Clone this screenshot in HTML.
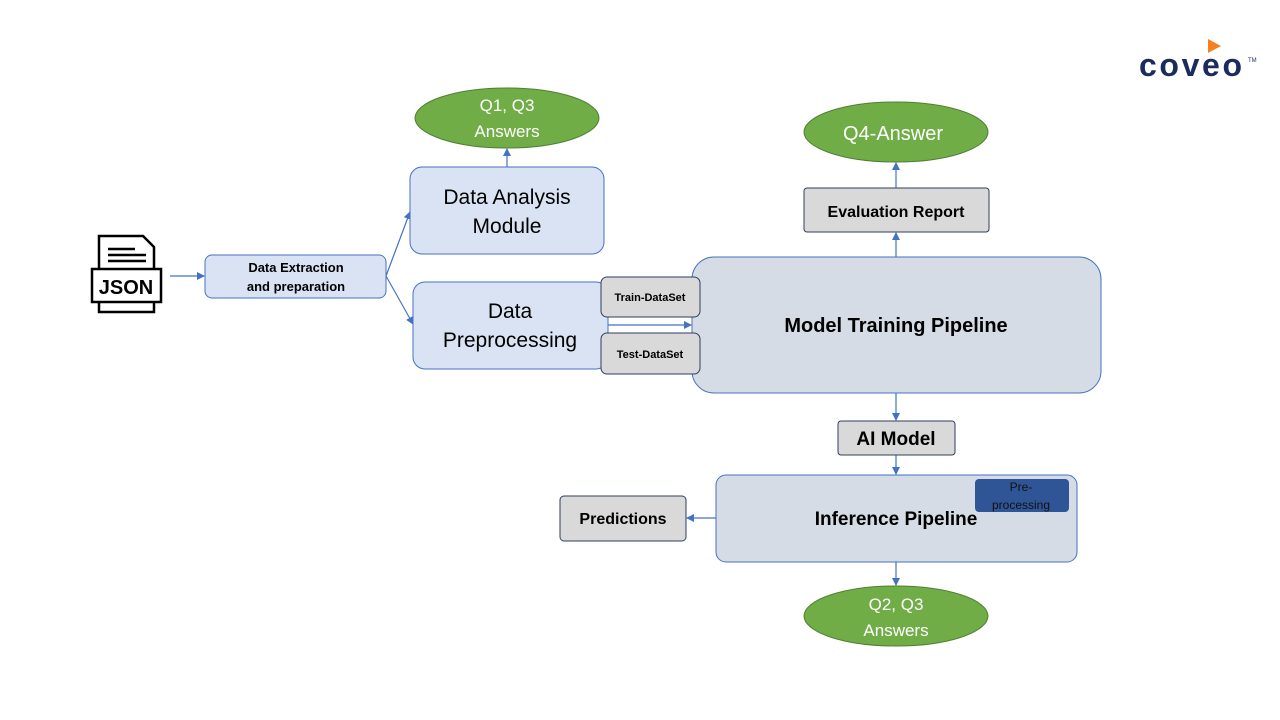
<!DOCTYPE html>
<html><head><meta charset="utf-8"><style>body{margin:0;background:#fff}svg{display:block;font-family:"Liberation Sans",Calibri,sans-serif}</style></head><body>
<svg width="1280" height="720" viewBox="0 0 1280 720">
<defs><marker id="a" markerWidth="8" markerHeight="8" refX="7" refY="4" orient="auto" markerUnits="userSpaceOnUse"><path d="M0,0 L8,4 L0,8z" fill="#4472c4"/></marker></defs>
<g stroke="#4472c4" stroke-width="1.2" fill="none" marker-end="url(#a)">
<line x1="170" y1="276" x2="204" y2="276"/>
<line x1="386" y1="276" x2="410" y2="212"/>
<line x1="386" y1="276" x2="413" y2="324"/>
<line x1="507" y1="167" x2="507" y2="149"/>
<line x1="607" y1="325" x2="691" y2="325"/>
<line x1="896" y1="257" x2="896" y2="233"/>
<line x1="896" y1="188" x2="896" y2="163"/>
<line x1="896" y1="393" x2="896" y2="420"/>
<line x1="896" y1="455" x2="896" y2="474"/>
<line x1="716" y1="518" x2="687" y2="518"/>
<line x1="896" y1="562" x2="896" y2="585"/>
</g>
<line x1="607" y1="317" x2="692" y2="317" stroke="#2f3e5f" stroke-width="1"/>
<line x1="607" y1="333" x2="692" y2="333" stroke="#2f3e5f" stroke-width="1"/>
<g stroke="#000" stroke-width="2.5" fill="#fff">
<path d="M99,236 L143,236 L154,247 L154,312 L99,312 Z"/>
<rect x="92" y="269" width="69" height="33"/>
</g>
<g stroke="#000" stroke-width="2.5"><line x1="108" y1="249" x2="135" y2="249"/><line x1="108" y1="255" x2="146" y2="255"/><line x1="108" y1="261" x2="146" y2="261"/></g>
<text x="126" y="294" font-size="20" font-weight="bold" text-anchor="middle">JSON</text>
<g stroke="#4472c4" stroke-width="1" fill="#dae3f3">
<rect x="205" y="255" width="181" height="43" rx="7"/>
<rect x="410" y="167" width="194" height="87" rx="12"/>
<rect x="413" y="282" width="195" height="87" rx="12"/>
<rect x="692" y="257" width="409" height="136" rx="22" fill="#d6dce5"/>
<rect x="716" y="475" width="361" height="87" rx="10" fill="#d6dce5"/>
</g>
<g stroke="#2f3e5f" stroke-width="1" fill="#d9d9d9">
<rect x="601" y="277" width="99" height="40" rx="6"/>
<rect x="601" y="333" width="99" height="41" rx="6"/>
<rect x="804" y="188" width="185" height="44" rx="3"/>
<rect x="838" y="421" width="117" height="34" rx="3"/>
<rect x="560" y="496" width="126" height="45" rx="4"/>
</g>
<rect x="975" y="479" width="94" height="33" rx="4" fill="#2f5597"/>
<g fill="#70ad47" stroke="#507e32" stroke-width="1">
<ellipse cx="507" cy="118" rx="92" ry="30"/>
<ellipse cx="896" cy="132" rx="92" ry="30"/>
<ellipse cx="896" cy="616" rx="92" ry="30"/>
</g>
<g text-anchor="middle" fill="#000">
<text x="296" y="272" font-size="13" font-weight="bold">Data Extraction</text>
<text x="296" y="291" font-size="13" font-weight="bold">and preparation</text>
<text x="507" y="204" font-size="21">Data Analysis</text>
<text x="507" y="233" font-size="21">Module</text>
<text x="510" y="318" font-size="21">Data</text>
<text x="510" y="347" font-size="21">Preprocessing</text>
<text x="650" y="301" font-size="11" font-weight="bold">Train-DataSet</text>
<text x="650" y="358" font-size="11" font-weight="bold">Test-DataSet</text>
<text x="896" y="332" font-size="20" font-weight="bold">Model Training Pipeline</text>
<text x="896" y="217" font-size="16" font-weight="bold">Evaluation  Report</text>
<text x="896" y="445" font-size="19" font-weight="bold">AI Model</text>
<text x="896" y="525" font-size="19" font-weight="bold">Inference Pipeline</text>
<text x="623" y="524" font-size="16" font-weight="bold">Predictions</text>
<text x="1021" y="491" font-size="12" fill="#111">Pre-</text>
<text x="1021" y="509" font-size="12" fill="#111">processing</text>
<g fill="#fff"><text x="507" y="111" font-size="17">Q1, Q3</text><text x="507" y="137" font-size="17">Answers</text>
<text x="893" y="140" font-size="20">Q4-Answer</text>
<text x="896" y="610" font-size="17">Q2, Q3</text><text x="896" y="636" font-size="17">Answers</text></g>
</g>
<path d="M1208,39 L1221,46 L1208,53 Z" fill="#f58020"/>
<text x="1139" y="76" font-size="32" font-weight="bold" fill="#1b2b5e" letter-spacing="4" textLength="107">coveo</text>
<text x="1248" y="62" font-size="6" fill="#1b2b5e">TM</text>
</svg>
</body></html>
